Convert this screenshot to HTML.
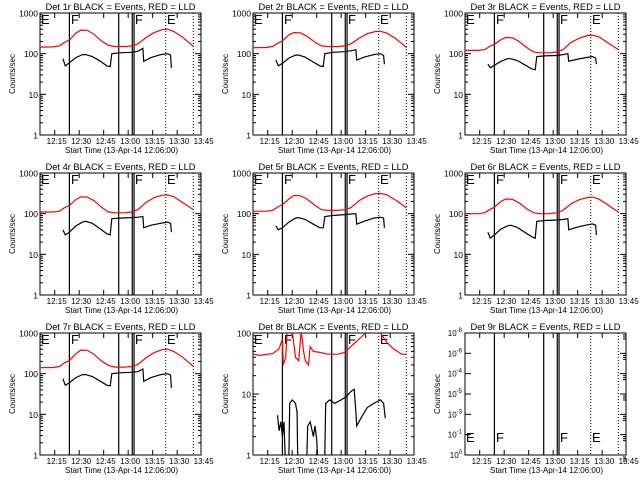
<!DOCTYPE html>
<html><head><meta charset="utf-8"><style>
html,body{margin:0;padding:0;background:#fff;}
svg{display:block;font-family:"Liberation Sans",sans-serif;}
</style></head><body>
<svg id="chart" width="640" height="480" viewBox="0 0 640 480" xmlns="http://www.w3.org/2000/svg">
<rect width="640" height="480" fill="#fff"/>
</svg>
<script>
// shared time samples (minutes after 12:00)
const redTimes = [6,14,18,21,24,28,31,35,39,44,48,52,58,62,66,71,76,81,84,88,93,97,100];
const blackTimes = [20,21.5,24,28,32,34,38,43,47,49,50,55,62,66,69,69.5,74,80,84,86,86.5];
const xTickLabels = ["12:15","12:30","12:45","13:00","13:15","13:30","13:45"];
const xTickTimes = [15,30,45,60,75,90,105];
const solidLineTimes = [24,54.2,62.5,63.6];
const dottedLineTimes = [83,99.9];

const red1 = [145,147,155,190,215,320,380,375,300,200,160,150,150,155,175,250,330,390,400,350,260,190,150];
const black1 = [75,50,60,80,95,95,85,65,50,48,100,105,108,115,135,65,80,95,100,92,45];
const red2 = [140,142,150,180,205,290,330,325,270,190,155,148,150,155,175,240,310,350,355,320,240,180,140];
const black2 = [70,50,58,78,92,92,82,62,50,48,100,108,112,118,125,70,82,95,100,90,55];
const red3 = [120,120,125,150,170,220,250,245,200,140,110,105,105,110,125,190,240,280,285,260,190,150,125];
const black3 = [55,45,52,65,75,75,68,52,42,40,85,88,90,95,100,65,72,80,85,78,55];
const red4 = [110,110,115,140,160,220,260,255,210,140,110,105,105,110,125,190,250,285,290,260,190,150,125];
const black4 = [40,30,35,50,62,65,58,42,32,30,75,78,80,82,85,45,52,58,62,58,35];
const red5 = [115,115,120,145,165,230,280,275,230,160,125,120,120,125,140,210,270,310,315,290,220,170,140];
const black5 = [50,40,45,62,78,80,72,55,45,45,85,90,95,98,100,55,65,78,82,78,45];
const red6 = [100,100,105,125,145,200,230,225,185,130,105,100,100,105,120,175,220,250,255,230,170,130,110];
const black6 = [35,25,30,42,50,52,46,34,27,25,65,68,70,72,75,40,46,52,56,52,30];
const red7 = [140,142,150,185,210,310,380,375,300,200,160,145,145,150,170,245,330,390,400,350,260,190,150];
const black7 = [75,52,60,80,95,95,85,65,52,50,100,105,108,112,130,65,80,95,100,92,45];

const red8Times = [6,10,18,22,24,24.5,26,27,30,32,34,35.5,37,38,40,41,43,47,52,58,62,66,70,74,76,84,88,92,97,100];
const red8 = [45,43,46,55,80,30,40,110,110,40,35,110,50,35,30,60,50,48,45,45,48,60,75,95,110,100,70,55,45,45];
const black8Times = [21,22,23,24,25,26,27.5,28,28.5,30,32,33,33.5,38.5,39,39.5,41,43,44,45,46,49.5,50,50.5,53,56,60,63,66,68,69,69.5,72,76,80,84,86,87];
const black8 = [4.5,2.5,3.5,2,3.5,0.5,0.5,1,7,8,7,5,0.5,0.5,1,3,3.5,2,3,1.8,0.5,0.5,1,7,8,7,8,9,11,12,5,3,4,6,7,8,7,4];

const panels = [
 {id:1,ox:0,oy:0,red:red1,black:black1,dec:3,rt:redTimes,bt:blackTimes},
 {id:2,ox:213,oy:0,red:red2,black:black2,dec:3,rt:redTimes,bt:blackTimes},
 {id:3,ox:425,oy:0,red:red3,black:black3,dec:3,rt:redTimes,bt:blackTimes},
 {id:4,ox:0,oy:160,red:red4,black:black4,dec:3,rt:redTimes,bt:blackTimes},
 {id:5,ox:213,oy:160,red:red5,black:black5,dec:3,rt:redTimes,bt:blackTimes},
 {id:6,ox:425,oy:160,red:red6,black:black6,dec:3,rt:redTimes,bt:blackTimes},
 {id:7,ox:0,oy:320,red:red7,black:black7,dec:3,rt:redTimes,bt:blackTimes},
 {id:8,ox:213,oy:320,red:red8,black:black8,dec:2,rt:red8Times,bt:black8Times},
 {id:9,ox:425,oy:320,red:null,black:null,dec:0,rt:[],bt:[]}
];
const NS="http://www.w3.org/2000/svg";
const svg=document.getElementById('chart');
function mk(tag,attrs,parent){const e=document.createElementNS(NS,tag);for(const k in attrs)e.setAttribute(k,attrs[k]);parent.appendChild(e);return e;}
const L=40,R=201,T=13,B=135,TMIN=6,TMAX=104.6;
function xs(t){return L+(t-TMIN)*(R-L)/(TMAX-TMIN);}
panels.forEach(p=>{
 const g=mk('g',{transform:`translate(${p.ox},${p.oy})`},svg);
 
 
 const ys=v=>B-Math.log10(v)/p.dec*(B-T);
 const cp=mk('clipPath',{id:'cp'+p.id},g);
 mk('rect',{x:L,y:T,width:R-L,height:B-T},cp);
 const tt=mk('text',{x:(L+R)/2,y:10,'text-anchor':'middle','font-size':'9','textLength':'150','lengthAdjust':'spacingAndGlyphs'},g);
 tt.textContent=`Det ${p.id}r BLACK = Events, RED = LLD`;
 
 
 const fr=mk('rect',{x:L,y:T,width:R-L,height:B-T,fill:'none',stroke:'#000','stroke-width':1},g);
 
 
 xTickTimes.forEach((t,i)=>{
  const x=xs(t);
  if(x<=R+0.5){mk('line',{x1:x,y1:B,x2:x,y2:B-5,stroke:'#000'},g);mk('line',{x1:x,y1:T,x2:x,y2:T+5,stroke:'#000'},g);}
  const lb=mk('text',{x:x+2,y:B+9,'text-anchor':'middle','font-size':'8'},g);
  lb.textContent=xTickLabels[i];
  
  
 });
 const xt=mk('text',{x:(L+R)/2+1,y:B+18,'text-anchor':'middle','font-size':'8.5','textLength':'113','lengthAdjust':'spacingAndGlyphs'},g);
 xt.textContent='Start Time (13-Apr-14 12:06:00)';
 
 
 const yt=mk('text',{x:0,y:0,'text-anchor':'middle','font-size':'8',transform:`translate(15,${(T+B)/2}) rotate(-90)`},g);
 yt.textContent='Counts/sec';
 
 
 if(p.dec>0){
  for(let d=0;d<=p.dec;d++){
   const y=ys(Math.pow(10,d));
   mk('line',{x1:L,y1:y,x2:L+6,y2:y,stroke:'#000'},g);mk('line',{x1:R,y1:y,x2:R-6,y2:y,stroke:'#000'},g);
   const lb=mk('text',{x:L-2,y:y+3.5,'text-anchor':'end','font-size':'8.5'},g);
   lb.textContent=String(Math.pow(10,d));
   
   
   if(d<p.dec)for(let m=2;m<10;m++){const yy=ys(m*Math.pow(10,d));mk('line',{x1:L,y1:yy,x2:L+3,y2:yy,stroke:'#000'},g);mk('line',{x1:R,y1:yy,x2:R-3,y2:yy,stroke:'#000'},g);}
  }
 } else {
  const exps=['-8','-6','-4','-5','-3','-1','0'];
  exps.forEach((e,i)=>{
   const y=T+i*(B-T)/6;
   mk('line',{x1:L,y1:y,x2:L+6,y2:y,stroke:'#000'},g);mk('line',{x1:R,y1:y,x2:R-6,y2:y,stroke:'#000'},g);
   for(let k=1;k<4;k++){mk('line',{x1:R,y1:y+k*2,x2:R-3,y2:y+k*2,stroke:'#000'},g);}
   const lb=mk('text',{x:L-3,y:y+3,'text-anchor':'end','font-size':'8'},g);
   lb.innerHTML='10<tspan dy="-4" font-size="6">'+e+'</tspan>';
   
   
  });
 }
 solidLineTimes.forEach(t=>{const l=mk('line',{x1:xs(t),y1:T,x2:xs(t),y2:B,stroke:'#000','stroke-width':1.2},g);
  });
 dottedLineTimes.forEach(t=>{const l=mk('line',{x1:xs(t),y1:T,x2:xs(t),y2:B,stroke:'#000','stroke-dasharray':'1,2'},g);
  });
 const my=p.id===9?B-13:T+11;
 [['E',41],['F',71],['F',135],['E',167]].forEach(m=>{const tx=mk('text',{x:m[1],y:my,'font-size':'13'},g);tx.textContent=m[0];
  });
 if(p.red){
  const pts=p.rt.map((t,i)=>xs(t).toFixed(1)+','+ys(p.red[i]).toFixed(1)).join(' ');
  const pl=mk('polyline',{points:pts,fill:'none',stroke:'#f00','stroke-width':1.2,'clip-path':`url(#cp${p.id})`},g);
  
 }
 if(p.black){
  const pts=p.bt.map((t,i)=>xs(t).toFixed(1)+','+ys(p.black[i]).toFixed(1)).join(' ');
  const pl=mk('polyline',{points:pts,fill:'none',stroke:'#000','stroke-width':1.2,'clip-path':`url(#cp${p.id})`},g);
  
 }
});
</script>
</body></html>
